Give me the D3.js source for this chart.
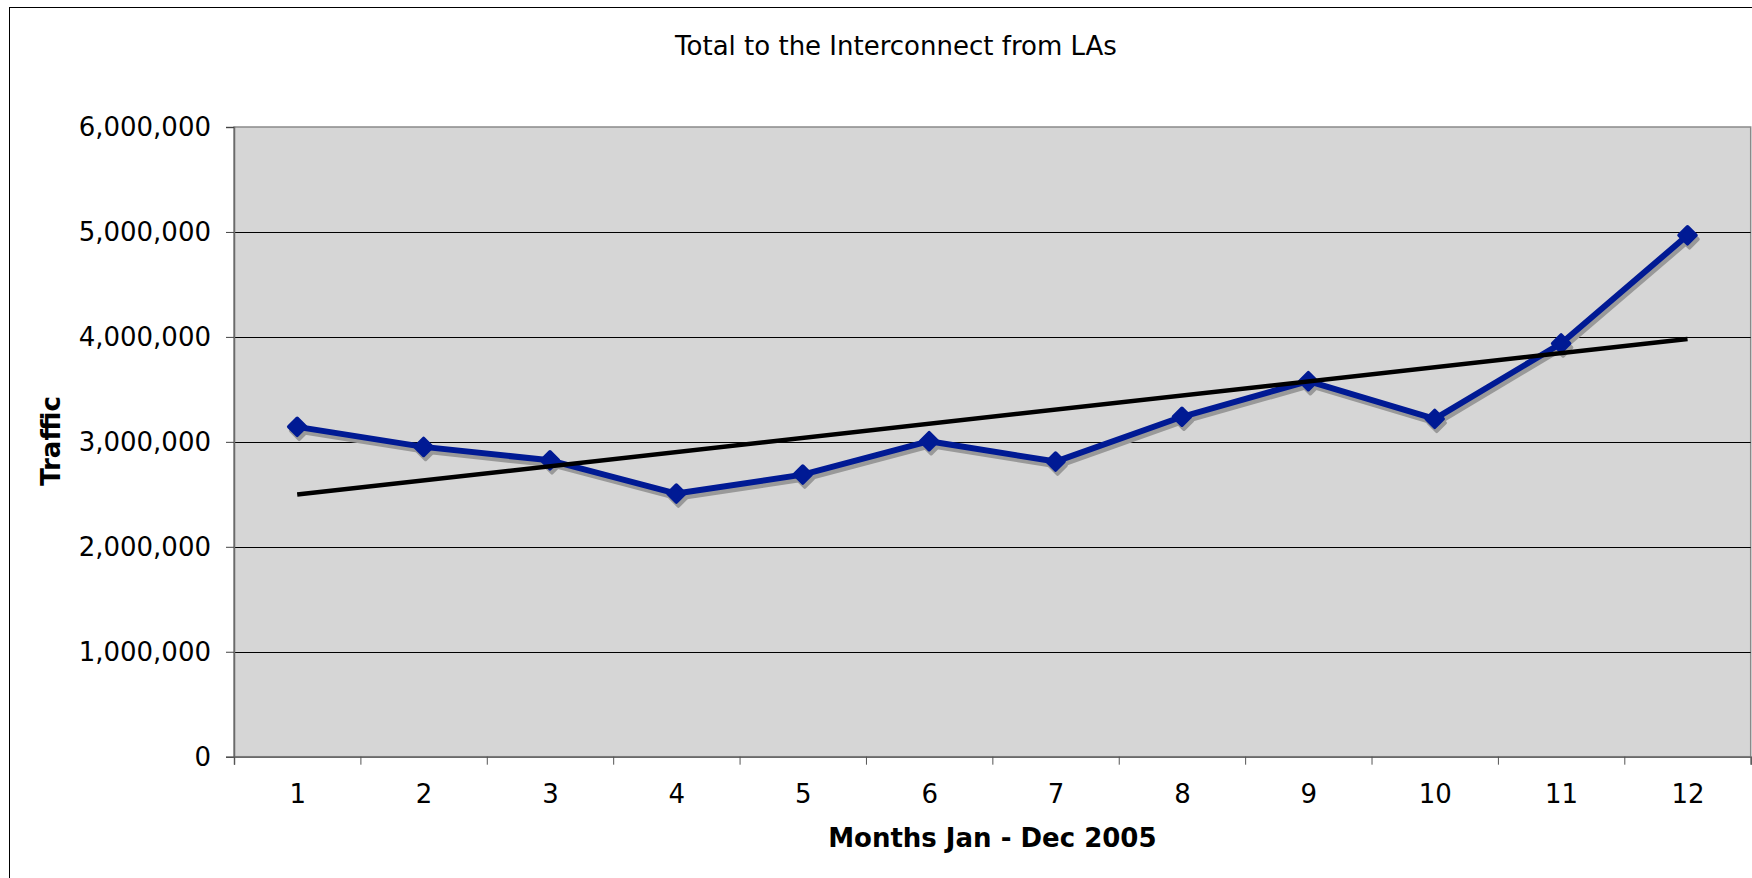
<!DOCTYPE html>
<html>
<head>
<meta charset="utf-8">
<script src="https://cdn.jsdelivr.net/npm/d3@7"></script>
<style>
  html, body { margin: 0; padding: 0; background: #fff; }
  svg { display: block; }
  text { font-family: "DejaVu Sans", Verdana, sans-serif; fill: #000; }
</style>
</head>
<body>
<svg id="chart" width="1752" height="878"></svg>
<script>
// ---- data ----
const chartTitle = "Total to the Interconnect from LAs";
const xTitle = "Months Jan - Dec 2005";
const yTitle = "Traffic";
const months = [1, 2, 3, 4, 5, 6, 7, 8, 9, 10, 11, 12];
const traffic = [3143000, 2952000, 2824000, 2507000, 2688000, 3006000, 2812000, 3239000, 3578000, 3219000, 3938000, 4968000];
const yTicks = [0, 1000000, 2000000, 3000000, 4000000, 5000000, 6000000];

// ---- layout ----
const plot = { left: 234, top: 127, right: 1750.7, bottom: 756.7 };
const svg = d3.select("#chart");

// frame
svg.append("rect").attr("x", 9.5).attr("y", 7.5).attr("width", 1800).attr("height", 900)
  .attr("fill", "#fff").attr("stroke", "#000").attr("stroke-width", 1);

const x = d3.scaleLinear().domain([0.5, 12.5]).range([plot.left, plot.right]);
const y = d3.scaleLinear().domain([0, 6000000]).range([plot.bottom, plot.top]);

// plot background
svg.append("rect").attr("x", plot.left).attr("y", plot.top)
  .attr("width", plot.right - plot.left).attr("height", plot.bottom - plot.top)
  .attr("fill", "#d6d6d6").attr("stroke", "#8a8a8a").attr("stroke-width", 1.5);

// gridlines
svg.append("g").selectAll("line").data(yTicks.filter(v => v > 0 && v < 6000000)).join("line")
  .attr("x1", plot.left).attr("x2", plot.right)
  .attr("y1", d => Math.round(y(d)) + 0.5).attr("y2", d => Math.round(y(d)) + 0.5)
  .attr("stroke", "#000").attr("stroke-width", 1);

// y axis
const yAxis = svg.append("g").attr("transform", `translate(${plot.left},0)`)
  .call(d3.axisLeft(y).tickValues(yTicks).tickFormat(d3.format(",")).tickSize(8).tickPadding(15));
yAxis.select(".domain").attr("stroke", "#6a6a6a").attr("stroke-width", 1.5);
yAxis.selectAll(".tick line").attr("stroke", "#444");
yAxis.selectAll("text").style("font-size", "26px").style("font-family", '"DejaVu Sans", Verdana, sans-serif').attr("fill", "#000");

// x axis: tick marks at category boundaries
const bounds = d3.range(0, 13).map(i => 0.5 + i);
const xAxisTicks = svg.append("g").attr("transform", `translate(0,${plot.bottom})`)
  .call(d3.axisBottom(x).tickValues(bounds).tickFormat("").tickSize(8));
xAxisTicks.select(".domain").attr("stroke", "#6a6a6a").attr("stroke-width", 1.5);
xAxisTicks.selectAll(".tick line").attr("stroke", "#555");
// x labels at category centers
const xAxisLabels = svg.append("g").attr("transform", `translate(0,${plot.bottom})`)
  .call(d3.axisBottom(x).tickValues(months).tickFormat(d3.format("d")).tickSize(0).tickPadding(28));
xAxisLabels.select(".domain").remove();
xAxisLabels.selectAll("text").style("font-size", "26px").style("font-family", '"DejaVu Sans", Verdana, sans-serif').attr("fill", "#000");

// trendline (least squares fit of the series)
const mx = d3.mean(months), my = d3.mean(traffic);
const slope = d3.sum(months, (m, i) => (m - mx) * (traffic[i] - my)) / d3.sum(months, m => (m - mx) ** 2);
const icpt = my - slope * mx;
const trend = [months[0], months[months.length - 1]].map(m => [m, icpt + slope * m]);

const line = d3.line().x(d => x(d[0])).y(d => y(d[1]));
const pts = months.map((m, i) => [m, traffic[i]]);
const diamond = (cx, cy, r) => `M${cx},${cy - r}L${cx + r},${cy}L${cx},${cy + r}L${cx - r},${cy}Z`;

// series shadow
const sh = svg.append("g").attr("transform", "translate(2,4)");
sh.append("path").attr("d", line(pts)).attr("fill", "none").attr("stroke", "#999")
  .attr("stroke-width", 6).attr("stroke-linejoin", "round");
sh.selectAll("path.m").data(pts).join("path").attr("class", "m")
  .attr("d", d => diamond(x(d[0]), y(d[1]), 8.5)).attr("fill", "#999").attr("stroke", "#999")
  .attr("stroke-width", 3.5).attr("stroke-linejoin", "round");

// series
svg.append("path").attr("d", line(pts)).attr("fill", "none").attr("stroke", "#001a94")
  .attr("stroke-width", 6).attr("stroke-linejoin", "round");
svg.append("g").selectAll("path").data(pts).join("path")
  .attr("d", d => diamond(x(d[0]), y(d[1]), 8.5)).attr("fill", "#001a94").attr("stroke", "#001a94")
  .attr("stroke-width", 3.5).attr("stroke-linejoin", "round");

// trend line
svg.append("path").attr("d", line(trend)).attr("fill", "none").attr("stroke", "#000")
  .attr("stroke-width", 4.5);

// titles
svg.append("text").attr("x", 896).attr("y", 55).attr("text-anchor", "middle")
  .style("font-size", "26px").text(chartTitle);
svg.append("text").attr("x", (plot.left + plot.right) / 2).attr("y", 847).attr("text-anchor", "middle")
  .style("font-size", "26px").style("font-weight", "bold").text(xTitle);
svg.append("text").attr("transform", `translate(60,441) rotate(-90)`).attr("text-anchor", "middle")
  .style("font-size", "26px").style("font-weight", "bold").text(yTitle);
</script>
</body>
</html>
